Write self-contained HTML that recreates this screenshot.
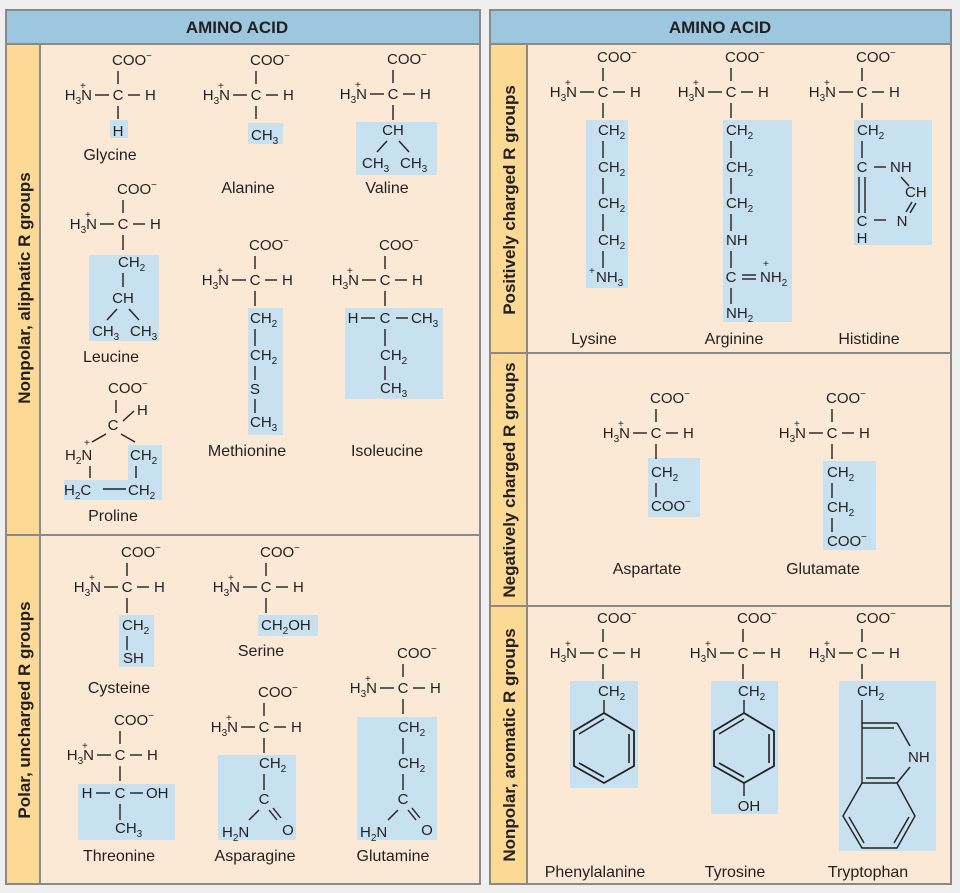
<!DOCTYPE html>
<html><head><meta charset="utf-8"><style>
html,body{margin:0;padding:0;background:#efefef;}
svg{display:block;}
text{font-family:"Liberation Sans",Arial,sans-serif;font-size:15px;fill:#231f20;}
.s{font-size:10px;}
.m{font-size:10px;}
.b{font-weight:bold;font-size:17px;}
.side{font-weight:bold;font-size:17px;}
.n{font-size:16px;}
line,polyline,polygon,path{stroke:#231f20;stroke-width:1.4;fill:none;}
.hl{fill:#c7e1f0;stroke:none;}
.frame{stroke:#8a8a8a;stroke-width:2;}
</style></head><body>
<svg width="960" height="893" viewBox="0 0 960 893" xmlns="http://www.w3.org/2000/svg">
<rect x="6" y="10" width="474" height="874" fill="#fce9d5" class="frame"/>
<rect x="6" y="10" width="474" height="34" fill="#9cc7df" class="frame"/>
<rect x="6" y="44" width="34" height="840" fill="#fcd994" class="frame"/>
<line x1="6" y1="535" x2="480" y2="535" class="frame"/>
<rect x="490" y="10" width="461" height="874" fill="#fce9d5" class="frame"/>
<rect x="490" y="10" width="461" height="34" fill="#9cc7df" class="frame"/>
<rect x="490" y="44" width="37" height="840" fill="#fcd994" class="frame"/>
<line x1="490" y1="353" x2="951" y2="353" class="frame"/>
<line x1="490" y1="606" x2="951" y2="606" class="frame"/>
<text x="237" y="33" text-anchor="middle" class="b">AMINO ACID</text>
<text x="720" y="33" text-anchor="middle" class="b">AMINO ACID</text>
<text class="side" text-anchor="middle" transform="translate(30,288) rotate(-90)">Nonpolar, aliphatic R groups</text>
<text class="side" text-anchor="middle" transform="translate(30,710) rotate(-90)">Polar, uncharged R groups</text>
<text class="side" text-anchor="middle" transform="translate(515,200) rotate(-90)">Positively charged R groups</text>
<text class="side" text-anchor="middle" transform="translate(515,480) rotate(-90)">Negatively charged R groups</text>
<text class="side" text-anchor="middle" transform="translate(515,745) rotate(-90)">Nonpolar, aromatic R groups</text>

<rect class="hl" x="110" y="120" width="18" height="18"/>
<rect class="hl" x="248" y="123" width="35" height="21"/>
<rect class="hl" x="356" y="122" width="81" height="53"/>
<rect class="hl" x="89" y="255" width="70" height="86"/>
<rect class="hl" x="248" y="308" width="35" height="127"/>
<rect class="hl" x="345" y="308" width="98" height="91"/>
<rect class="hl" x="128" y="445" width="34" height="55"/>
<rect class="hl" x="64" y="480" width="98" height="20"/>
<rect class="hl" x="119" y="615" width="35" height="52"/>
<rect class="hl" x="258" y="615" width="60" height="21"/>
<rect class="hl" x="78" y="784" width="97" height="56"/>
<rect class="hl" x="218" y="755" width="78" height="85"/>
<rect class="hl" x="357" y="717" width="80" height="123"/>
<rect class="hl" x="586" y="120" width="42" height="168"/>
<rect class="hl" x="723" y="120" width="69" height="202"/>
<rect class="hl" x="854" y="120" width="78" height="125"/>
<rect class="hl" x="648" y="458" width="52" height="59"/>
<rect class="hl" x="823" y="461" width="53" height="89"/>
<rect class="hl" x="570" y="681" width="68" height="107"/>
<rect class="hl" x="711" y="681" width="67" height="133"/>
<rect class="hl" x="839" y="681" width="97" height="170"/>

<g transform="translate(118,65)"><text x="-6" y="0">COO</text><text x="28" y="-6" class="m">−</text><line x1="0" y1="6" x2="0" y2="19"/><text x="-26" y="35" text-anchor="end">H<tspan class="s" dy="4">3</tspan><tspan dy="-4">N</tspan></text><text x="-38" y="24" class="m">+</text><line x1="-23" y1="30" x2="-9" y2="30"/><text x="0" y="35" text-anchor="middle">C</text><line x1="10" y1="30" x2="22" y2="30"/><text x="27" y="35">H</text><line x1="0" y1="41" x2="0" y2="54"/></g>
<g transform="translate(256,65)"><text x="-6" y="0">COO</text><text x="28" y="-6" class="m">−</text><line x1="0" y1="6" x2="0" y2="19"/><text x="-26" y="35" text-anchor="end">H<tspan class="s" dy="4">3</tspan><tspan dy="-4">N</tspan></text><text x="-38" y="24" class="m">+</text><line x1="-23" y1="30" x2="-9" y2="30"/><text x="0" y="35" text-anchor="middle">C</text><line x1="10" y1="30" x2="22" y2="30"/><text x="27" y="35">H</text><line x1="0" y1="41" x2="0" y2="54"/></g>
<g transform="translate(393,64)"><text x="-6" y="0">COO</text><text x="28" y="-6" class="m">−</text><line x1="0" y1="6" x2="0" y2="19"/><text x="-26" y="35" text-anchor="end">H<tspan class="s" dy="4">3</tspan><tspan dy="-4">N</tspan></text><text x="-38" y="24" class="m">+</text><line x1="-23" y1="30" x2="-9" y2="30"/><text x="0" y="35" text-anchor="middle">C</text><line x1="10" y1="30" x2="22" y2="30"/><text x="27" y="35">H</text><line x1="0" y1="41" x2="0" y2="56"/></g>
<g transform="translate(123,194)"><text x="-6" y="0">COO</text><text x="28" y="-6" class="m">−</text><line x1="0" y1="6" x2="0" y2="19"/><text x="-26" y="35" text-anchor="end">H<tspan class="s" dy="4">3</tspan><tspan dy="-4">N</tspan></text><text x="-38" y="24" class="m">+</text><line x1="-23" y1="30" x2="-9" y2="30"/><text x="0" y="35" text-anchor="middle">C</text><line x1="10" y1="30" x2="22" y2="30"/><text x="27" y="35">H</text><line x1="0" y1="41" x2="0" y2="56"/></g>
<g transform="translate(255,250)"><text x="-6" y="0">COO</text><text x="28" y="-6" class="m">−</text><line x1="0" y1="6" x2="0" y2="19"/><text x="-26" y="35" text-anchor="end">H<tspan class="s" dy="4">3</tspan><tspan dy="-4">N</tspan></text><text x="-38" y="24" class="m">+</text><line x1="-23" y1="30" x2="-9" y2="30"/><text x="0" y="35" text-anchor="middle">C</text><line x1="10" y1="30" x2="22" y2="30"/><text x="27" y="35">H</text><line x1="0" y1="41" x2="0" y2="56"/></g>
<g transform="translate(385,250)"><text x="-6" y="0">COO</text><text x="28" y="-6" class="m">−</text><line x1="0" y1="6" x2="0" y2="19"/><text x="-26" y="35" text-anchor="end">H<tspan class="s" dy="4">3</tspan><tspan dy="-4">N</tspan></text><text x="-38" y="24" class="m">+</text><line x1="-23" y1="30" x2="-9" y2="30"/><text x="0" y="35" text-anchor="middle">C</text><line x1="10" y1="30" x2="22" y2="30"/><text x="27" y="35">H</text><line x1="0" y1="41" x2="0" y2="56"/></g>
<g transform="translate(127,557)"><text x="-6" y="0">COO</text><text x="28" y="-6" class="m">−</text><line x1="0" y1="6" x2="0" y2="19"/><text x="-26" y="35" text-anchor="end">H<tspan class="s" dy="4">3</tspan><tspan dy="-4">N</tspan></text><text x="-38" y="24" class="m">+</text><line x1="-23" y1="30" x2="-9" y2="30"/><text x="0" y="35" text-anchor="middle">C</text><line x1="10" y1="30" x2="22" y2="30"/><text x="27" y="35">H</text><line x1="0" y1="41" x2="0" y2="56"/></g>
<g transform="translate(266,557)"><text x="-6" y="0">COO</text><text x="28" y="-6" class="m">−</text><line x1="0" y1="6" x2="0" y2="19"/><text x="-26" y="35" text-anchor="end">H<tspan class="s" dy="4">3</tspan><tspan dy="-4">N</tspan></text><text x="-38" y="24" class="m">+</text><line x1="-23" y1="30" x2="-9" y2="30"/><text x="0" y="35" text-anchor="middle">C</text><line x1="10" y1="30" x2="22" y2="30"/><text x="27" y="35">H</text><line x1="0" y1="41" x2="0" y2="56"/></g>
<g transform="translate(403,658)"><text x="-6" y="0">COO</text><text x="28" y="-6" class="m">−</text><line x1="0" y1="6" x2="0" y2="19"/><text x="-26" y="35" text-anchor="end">H<tspan class="s" dy="4">3</tspan><tspan dy="-4">N</tspan></text><text x="-38" y="24" class="m">+</text><line x1="-23" y1="30" x2="-9" y2="30"/><text x="0" y="35" text-anchor="middle">C</text><line x1="10" y1="30" x2="22" y2="30"/><text x="27" y="35">H</text><line x1="0" y1="41" x2="0" y2="56"/></g>
<g transform="translate(264,697)"><text x="-6" y="0">COO</text><text x="28" y="-6" class="m">−</text><line x1="0" y1="6" x2="0" y2="19"/><text x="-26" y="35" text-anchor="end">H<tspan class="s" dy="4">3</tspan><tspan dy="-4">N</tspan></text><text x="-38" y="24" class="m">+</text><line x1="-23" y1="30" x2="-9" y2="30"/><text x="0" y="35" text-anchor="middle">C</text><line x1="10" y1="30" x2="22" y2="30"/><text x="27" y="35">H</text><line x1="0" y1="41" x2="0" y2="56"/></g>
<g transform="translate(120,725)"><text x="-6" y="0">COO</text><text x="28" y="-6" class="m">−</text><line x1="0" y1="6" x2="0" y2="19"/><text x="-26" y="35" text-anchor="end">H<tspan class="s" dy="4">3</tspan><tspan dy="-4">N</tspan></text><text x="-38" y="24" class="m">+</text><line x1="-23" y1="30" x2="-9" y2="30"/><text x="0" y="35" text-anchor="middle">C</text><line x1="10" y1="30" x2="22" y2="30"/><text x="27" y="35">H</text><line x1="0" y1="41" x2="0" y2="56"/></g>
<g transform="translate(603,62)"><text x="-6" y="0">COO</text><text x="28" y="-6" class="m">−</text><line x1="0" y1="6" x2="0" y2="19"/><text x="-26" y="35" text-anchor="end">H<tspan class="s" dy="4">3</tspan><tspan dy="-4">N</tspan></text><text x="-38" y="24" class="m">+</text><line x1="-23" y1="30" x2="-9" y2="30"/><text x="0" y="35" text-anchor="middle">C</text><line x1="10" y1="30" x2="22" y2="30"/><text x="27" y="35">H</text><line x1="0" y1="41" x2="0" y2="56"/></g>
<g transform="translate(731,62)"><text x="-6" y="0">COO</text><text x="28" y="-6" class="m">−</text><line x1="0" y1="6" x2="0" y2="19"/><text x="-26" y="35" text-anchor="end">H<tspan class="s" dy="4">3</tspan><tspan dy="-4">N</tspan></text><text x="-38" y="24" class="m">+</text><line x1="-23" y1="30" x2="-9" y2="30"/><text x="0" y="35" text-anchor="middle">C</text><line x1="10" y1="30" x2="22" y2="30"/><text x="27" y="35">H</text><line x1="0" y1="41" x2="0" y2="56"/></g>
<g transform="translate(862,62)"><text x="-6" y="0">COO</text><text x="28" y="-6" class="m">−</text><line x1="0" y1="6" x2="0" y2="19"/><text x="-26" y="35" text-anchor="end">H<tspan class="s" dy="4">3</tspan><tspan dy="-4">N</tspan></text><text x="-38" y="24" class="m">+</text><line x1="-23" y1="30" x2="-9" y2="30"/><text x="0" y="35" text-anchor="middle">C</text><line x1="10" y1="30" x2="22" y2="30"/><text x="27" y="35">H</text><line x1="0" y1="41" x2="0" y2="56"/></g>
<g transform="translate(656,403)"><text x="-6" y="0">COO</text><text x="28" y="-6" class="m">−</text><line x1="0" y1="6" x2="0" y2="19"/><text x="-26" y="35" text-anchor="end">H<tspan class="s" dy="4">3</tspan><tspan dy="-4">N</tspan></text><text x="-38" y="24" class="m">+</text><line x1="-23" y1="30" x2="-9" y2="30"/><text x="0" y="35" text-anchor="middle">C</text><line x1="10" y1="30" x2="22" y2="30"/><text x="27" y="35">H</text><line x1="0" y1="41" x2="0" y2="56"/></g>
<g transform="translate(832,403)"><text x="-6" y="0">COO</text><text x="28" y="-6" class="m">−</text><line x1="0" y1="6" x2="0" y2="19"/><text x="-26" y="35" text-anchor="end">H<tspan class="s" dy="4">3</tspan><tspan dy="-4">N</tspan></text><text x="-38" y="24" class="m">+</text><line x1="-23" y1="30" x2="-9" y2="30"/><text x="0" y="35" text-anchor="middle">C</text><line x1="10" y1="30" x2="22" y2="30"/><text x="27" y="35">H</text><line x1="0" y1="41" x2="0" y2="56"/></g>
<g transform="translate(603,623)"><text x="-6" y="0">COO</text><text x="28" y="-6" class="m">−</text><line x1="0" y1="6" x2="0" y2="19"/><text x="-26" y="35" text-anchor="end">H<tspan class="s" dy="4">3</tspan><tspan dy="-4">N</tspan></text><text x="-38" y="24" class="m">+</text><line x1="-23" y1="30" x2="-9" y2="30"/><text x="0" y="35" text-anchor="middle">C</text><line x1="10" y1="30" x2="22" y2="30"/><text x="27" y="35">H</text><line x1="0" y1="41" x2="0" y2="56"/></g>
<g transform="translate(743,623)"><text x="-6" y="0">COO</text><text x="28" y="-6" class="m">−</text><line x1="0" y1="6" x2="0" y2="19"/><text x="-26" y="35" text-anchor="end">H<tspan class="s" dy="4">3</tspan><tspan dy="-4">N</tspan></text><text x="-38" y="24" class="m">+</text><line x1="-23" y1="30" x2="-9" y2="30"/><text x="0" y="35" text-anchor="middle">C</text><line x1="10" y1="30" x2="22" y2="30"/><text x="27" y="35">H</text><line x1="0" y1="41" x2="0" y2="56"/></g>
<g transform="translate(862,623)"><text x="-6" y="0">COO</text><text x="28" y="-6" class="m">−</text><line x1="0" y1="6" x2="0" y2="19"/><text x="-26" y="35" text-anchor="end">H<tspan class="s" dy="4">3</tspan><tspan dy="-4">N</tspan></text><text x="-38" y="24" class="m">+</text><line x1="-23" y1="30" x2="-9" y2="30"/><text x="0" y="35" text-anchor="middle">C</text><line x1="10" y1="30" x2="22" y2="30"/><text x="27" y="35">H</text><line x1="0" y1="41" x2="0" y2="56"/></g>

<text x="118" y="136" text-anchor="middle">H</text>
<text x="110" y="160" text-anchor="middle" class="n">Glycine</text>
<text x="251" y="140">CH<tspan class="s" dy="4">3</tspan></text>
<text x="248" y="193" text-anchor="middle" class="n">Alanine</text>
<text x="393" y="135" text-anchor="middle">CH</text>
<line x1="387" y1="141" x2="377" y2="152"/><line x1="399" y1="141" x2="409" y2="152"/>
<text x="362" y="168">CH<tspan class="s" dy="4">3</tspan></text><text x="400" y="168">CH<tspan class="s" dy="4">3</tspan></text>
<text x="387" y="193" text-anchor="middle" class="n">Valine</text>
<text x="118" y="267">CH<tspan class="s" dy="4">2</tspan></text>
<line x1="123" y1="273" x2="123" y2="287"/>
<text x="123" y="303" text-anchor="middle">CH</text>
<line x1="117" y1="309" x2="107" y2="320"/><line x1="129" y1="309" x2="139" y2="320"/>
<text x="92" y="336">CH<tspan class="s" dy="4">3</tspan></text><text x="130" y="336">CH<tspan class="s" dy="4">3</tspan></text>
<text x="111" y="362" text-anchor="middle" class="n">Leucine</text>
<text x="250" y="323">CH<tspan class="s" dy="4">2</tspan></text>
<line x1="255" y1="329" x2="255" y2="346"/>
<text x="250" y="360">CH<tspan class="s" dy="4">2</tspan></text>
<line x1="255" y1="366" x2="255" y2="380"/>
<text x="255" y="394" text-anchor="middle">S</text>
<line x1="255" y1="399" x2="255" y2="413"/>
<text x="250" y="427">CH<tspan class="s" dy="4">3</tspan></text>
<text x="247" y="456" text-anchor="middle" class="n">Methionine</text>
<text x="353" y="323" text-anchor="middle">H</text><line x1="361" y1="318" x2="375" y2="318"/>
<text x="385" y="323" text-anchor="middle">C</text><line x1="396" y1="318" x2="408" y2="318"/>
<text x="411" y="323">CH<tspan class="s" dy="4">3</tspan></text>
<line x1="385" y1="329" x2="385" y2="346"/>
<text x="380" y="360">CH<tspan class="s" dy="4">2</tspan></text>
<line x1="385" y1="366" x2="385" y2="380"/>
<text x="380" y="393">CH<tspan class="s" dy="4">3</tspan></text>
<text x="387" y="456" text-anchor="middle" class="n">Isoleucine</text>
<text x="108" y="393">COO</text><text x="142" y="387" class="m">−</text>
<line x1="116" y1="400" x2="116" y2="413"/>
<text x="137" y="415">H</text><line x1="123" y1="421" x2="134" y2="411"/>
<text x="113" y="430" text-anchor="middle">C</text>
<line x1="106" y1="434" x2="92" y2="442"/><line x1="121" y1="434" x2="135" y2="442"/>
<text x="65" y="460">H<tspan class="s" dy="4">2</tspan><tspan dy="-4">N</tspan></text><text x="84" y="446" class="m">+</text>
<text x="130" y="460">CH<tspan class="s" dy="4">2</tspan></text>
<line x1="90" y1="466" x2="90" y2="478"/><line x1="136" y1="466" x2="136" y2="478"/>
<text x="64" y="495">H<tspan class="s" dy="4">2</tspan><tspan dy="-4">C</tspan></text>
<line x1="103" y1="489" x2="126" y2="489"/>
<text x="128" y="495">CH<tspan class="s" dy="4">2</tspan></text>
<text x="113" y="521" text-anchor="middle" class="n">Proline</text>
<text x="122" y="630">CH<tspan class="s" dy="4">2</tspan></text>
<line x1="127" y1="636" x2="127" y2="650"/>
<text x="123" y="663">SH</text>
<text x="119" y="693" text-anchor="middle" class="n">Cysteine</text>
<text x="261" y="630">CH<tspan class="s" dy="4">2</tspan><tspan dy="-4">OH</tspan></text>
<text x="261" y="656" text-anchor="middle" class="n">Serine</text>
<text x="87" y="798" text-anchor="middle">H</text><line x1="96" y1="793" x2="110" y2="793"/>
<text x="120" y="798" text-anchor="middle">C</text><line x1="130" y1="793" x2="143" y2="793"/>
<text x="146" y="798">OH</text>
<line x1="120" y1="804" x2="120" y2="820"/>
<text x="115" y="833">CH<tspan class="s" dy="4">3</tspan></text>
<text x="119" y="861" text-anchor="middle" class="n">Threonine</text>
<text x="259" y="768">CH<tspan class="s" dy="4">2</tspan></text>
<line x1="264" y1="774" x2="264" y2="790"/>
<text x="264" y="804" text-anchor="middle">C</text>
<line x1="259" y1="810" x2="249" y2="820"/>
<line x1="269" y1="810" x2="277" y2="820"/><line x1="273" y1="808" x2="281" y2="818"/>
<text x="222" y="837">H<tspan class="s" dy="4">2</tspan><tspan dy="-4">N</tspan></text>
<text x="288" y="835" text-anchor="middle">O</text>
<text x="255" y="861" text-anchor="middle" class="n">Asparagine</text>
<text x="398" y="732">CH<tspan class="s" dy="4">2</tspan></text>
<line x1="403" y1="738" x2="403" y2="754"/>
<text x="398" y="768">CH<tspan class="s" dy="4">2</tspan></text>
<line x1="403" y1="774" x2="403" y2="790"/>
<text x="403" y="804" text-anchor="middle">C</text>
<line x1="398" y1="810" x2="388" y2="820"/>
<line x1="408" y1="810" x2="416" y2="820"/><line x1="412" y1="808" x2="420" y2="818"/>
<text x="360" y="837">H<tspan class="s" dy="4">2</tspan><tspan dy="-4">N</tspan></text>
<text x="427" y="835" text-anchor="middle">O</text>
<text x="393" y="861" text-anchor="middle" class="n">Glutamine</text>

<text x="598" y="135">CH<tspan class="s" dy="4">2</tspan></text>
<line x1="603" y1="141" x2="603" y2="158"/>
<text x="598" y="172">CH<tspan class="s" dy="4">2</tspan></text>
<line x1="603" y1="178" x2="603" y2="194"/>
<text x="598" y="208">CH<tspan class="s" dy="4">2</tspan></text>
<line x1="603" y1="214" x2="603" y2="231"/>
<text x="598" y="245">CH<tspan class="s" dy="4">2</tspan></text>
<line x1="603" y1="251" x2="603" y2="268"/>
<text x="589" y="274" class="m">+</text>
<text x="596" y="282">NH<tspan class="s" dy="4">3</tspan></text>
<text x="594" y="344" text-anchor="middle" class="n">Lysine</text>
<text x="726" y="135">CH<tspan class="s" dy="4">2</tspan></text>
<line x1="731" y1="141" x2="731" y2="158"/>
<text x="726" y="172">CH<tspan class="s" dy="4">2</tspan></text>
<line x1="731" y1="178" x2="731" y2="194"/>
<text x="726" y="208">CH<tspan class="s" dy="4">2</tspan></text>
<line x1="731" y1="214" x2="731" y2="231"/>
<text x="726" y="245">NH</text>
<line x1="731" y1="251" x2="731" y2="268"/>
<text x="731" y="282" text-anchor="middle">C</text>
<line x1="742" y1="275" x2="756" y2="275"/><line x1="742" y1="279" x2="756" y2="279"/>
<text x="760" y="282">NH<tspan class="s" dy="4">2</tspan></text><text x="763" y="267" class="m">+</text>
<line x1="731" y1="288" x2="731" y2="304"/>
<text x="726" y="318">NH<tspan class="s" dy="4">2</tspan></text>
<text x="734" y="344" text-anchor="middle" class="n">Arginine</text>
<text x="857" y="135">CH<tspan class="s" dy="4">2</tspan></text>
<line x1="862" y1="141" x2="862" y2="158"/>
<text x="862" y="172" text-anchor="middle">C</text>
<line x1="874" y1="167" x2="886" y2="167"/>
<text x="890" y="172">NH</text>
<line x1="901" y1="177" x2="909" y2="186"/>
<text x="905" y="197">CH</text>
<line x1="912" y1="202" x2="906" y2="212"/><line x1="916" y1="203" x2="910" y2="213"/>
<text x="902" y="226" text-anchor="middle">N</text>
<line x1="874" y1="220" x2="886" y2="220"/>
<text x="862" y="226" text-anchor="middle">C</text>
<text x="862" y="243" text-anchor="middle">H</text>
<line x1="859" y1="177" x2="859" y2="213"/><line x1="865" y1="177" x2="865" y2="213"/>
<text x="869" y="344" text-anchor="middle" class="n">Histidine</text>
<text x="651" y="477">CH<tspan class="s" dy="4">2</tspan></text>
<line x1="656" y1="483" x2="656" y2="497"/>
<text x="651" y="511">COO</text><text x="685" y="505" class="m">−</text>
<text x="647" y="574" text-anchor="middle" class="n">Aspartate</text>
<text x="827" y="477">CH<tspan class="s" dy="4">2</tspan></text>
<line x1="832" y1="483" x2="832" y2="498"/>
<text x="827" y="512">CH<tspan class="s" dy="4">2</tspan></text>
<line x1="832" y1="518" x2="832" y2="532"/>
<text x="827" y="546">COO</text><text x="861" y="540" class="m">−</text>
<text x="823" y="574" text-anchor="middle" class="n">Glutamate</text>
<text x="598" y="696">CH<tspan class="s" dy="4">2</tspan></text>
<line x1="604" y1="700" x2="604" y2="713"/>
<polygon points="604,713 634,731 634,766 604,783 574,766 574,731" style="stroke-width:1.8"/>
<line x1="604" y1="719" x2="579" y2="734" style="stroke-width:1.6"/>
<line x1="629" y1="734" x2="629" y2="763" style="stroke-width:1.6"/>
<line x1="579" y1="763" x2="604" y2="777" style="stroke-width:1.6"/>
<text x="595" y="877" text-anchor="middle" class="n">Phenylalanine</text>
<text x="738" y="696">CH<tspan class="s" dy="4">2</tspan></text>
<line x1="744" y1="700" x2="744" y2="713"/>
<polygon points="744,713 774,731 774,766 744,783 714,766 714,731" style="stroke-width:1.8"/>
<line x1="744" y1="719" x2="719" y2="734" style="stroke-width:1.6"/>
<line x1="769" y1="734" x2="769" y2="763" style="stroke-width:1.6"/>
<line x1="719" y1="763" x2="744" y2="777" style="stroke-width:1.6"/>
<line x1="744" y1="783" x2="744" y2="796"/>
<text x="749" y="811" text-anchor="middle">OH</text>
<text x="735" y="877" text-anchor="middle" class="n">Tyrosine</text>
<text x="857" y="696">CH<tspan class="s" dy="4">2</tspan></text>
<g style="stroke-width:1.8">
<line x1="862" y1="700" x2="862" y2="783"/>
<line x1="862" y1="723" x2="897" y2="723"/>
<line x1="862" y1="728" x2="894" y2="728"/>
<line x1="897" y1="723" x2="910" y2="746"/>
<line x1="910" y1="767" x2="897" y2="783"/>
<line x1="862" y1="783" x2="897" y2="783"/>
<line x1="866" y1="778" x2="895" y2="778"/>
<polyline points="897,783 915,816 897,848 862,848 843,816 862,783"/>
<line x1="909" y1="817" x2="894" y2="843"/>
<line x1="849" y1="817" x2="864" y2="843"/>
</g>
<text x="908" y="762">NH</text>
<text x="868" y="877" text-anchor="middle" class="n">Tryptophan</text>
</svg>
</body></html>
